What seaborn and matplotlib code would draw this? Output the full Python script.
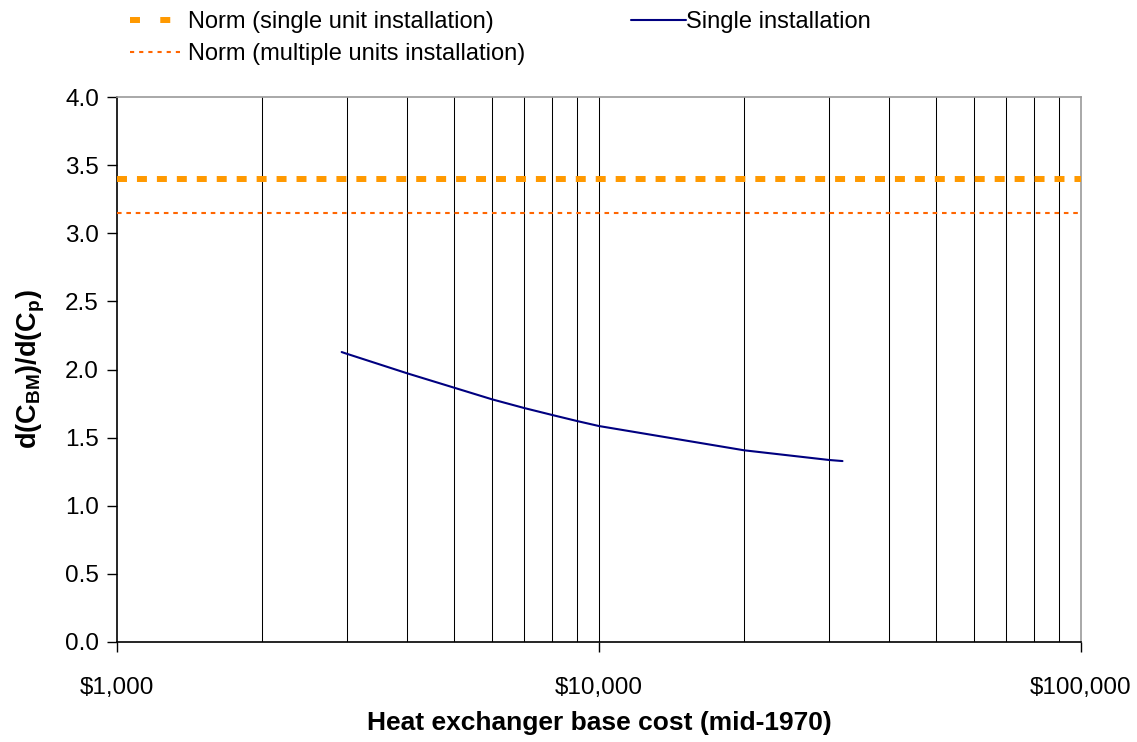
import numpy as np
import pandas as pd
import matplotlib
matplotlib.use("Agg")
import matplotlib.pyplot as plt
import seaborn as sns
from matplotlib.lines import Line2D
from matplotlib.ticker import FixedLocator, FuncFormatter

# ---- data ----
base_cost = [2925, 3000, 4000, 5000, 6000, 7000, 8000, 9000, 10000, 20000, 30000, 32000]
ratio_single = [2.128, 2.115, 1.972, 1.867, 1.781, 1.717, 1.666, 1.622, 1.585, 1.407, 1.336, 1.328]
norm_single_unit = 3.40
norm_multiple_units = 3.15
x_tick_values = [1000, 10000, 100000]
x_tick_labels = ["$1,000", "$10,000", "$100,000"]
y_tick_values = [0.0, 0.5, 1.0, 1.5, 2.0, 2.5, 3.0, 3.5, 4.0]
series_labels = ["Norm (single unit installation)", "Norm (multiple units installation)",
                 "Single installation"]

sns.set_style("white")
plt.rcParams['font.family'] = ['Liberation Sans', 'DejaVu Sans']
plt.rcParams['mathtext.fontset'] = 'custom'
plt.rcParams['mathtext.rm'] = 'Liberation Sans'
plt.rcParams['mathtext.bf'] = 'Liberation Sans:bold'
plt.rcParams['text.color'] = 'black'
plt.rcParams['axes.labelcolor'] = 'black'
plt.rcParams['xtick.color'] = 'black'
plt.rcParams['ytick.color'] = 'black'

ORANGE1 = "#FF9900"
ORANGE2 = "#FF6600"
NAVY = "#000080"

fig = plt.figure(figsize=(11.37, 7.42), dpi=100)
ax = fig.add_axes([117/1137, 1 - 642/742, (1081-117)/1137, (642-97)/742])

df = pd.DataFrame({"cost": base_cost, "ratio": ratio_single})

ax.set_xscale("log")
ax.set_xlim(1000, 100000)
ax.set_ylim(0, 4.0)

grid_x = [m * 10**e for e in (3, 4) for m in range(1, 10)]
for gx in grid_x[1:]:
    ax.axvline(gx, color="black", lw=0.75, zorder=1)

ax.axhline(norm_single_unit, color=ORANGE1, lw=4.3, ls=(0, (1.67, 1.67)), zorder=3)
ax.axhline(norm_multiple_units, color=ORANGE2, lw=1.5, ls=(0, (2.2, 2.3)), zorder=3)
sns.lineplot(data=df, x="cost", y="ratio", ax=ax, color=NAVY, lw=1.5, zorder=4, legend=False)

ax.xaxis.set_major_locator(FixedLocator(x_tick_values))
ax.xaxis.set_minor_locator(FixedLocator([]))
ax.set_xticks(x_tick_values)
ax.set_xticklabels(x_tick_labels)
ax.set_yticks(y_tick_values)
ax.yaxis.set_major_formatter(FuncFormatter(lambda v, p: f"{v:.1f}"))

ax.tick_params(axis="both", which="major", labelsize=17.5, colors="black", direction="out",
               length=7, width=1, left=True, bottom=True)
ax.tick_params(axis="x", pad=18)
ax.tick_params(axis="y", pad=6)

for side in ("left", "bottom"):
    ax.spines[side].set_color("black")
    ax.spines[side].set_linewidth(1.2)
for side in ("top", "right"):
    ax.spines[side].set_color("#9a9a9a")
    ax.spines[side].set_linewidth(1.2)

ax.set_xlabel("Heat exchanger base cost (mid-1970)", fontsize=19, fontweight="bold",
              labelpad=9, color="black")
ax.set_ylabel(r"d(C$_{\mathbf{BM}}$)/d(C$_{\mathbf{p}}$)", fontsize=19.5, fontweight="bold",
              labelpad=13, color="black")

h1 = Line2D([], [], color=ORANGE1, lw=4.3, ls=(0, (1.67, 3.4)))
h2 = Line2D([], [], color=ORANGE2, lw=1.5, ls=(0, (2.0, 2.4)))
h3 = Line2D([], [], color=NAVY, lw=1.5)

leg1 = fig.legend([h1, h2], series_labels[:2], loc="upper left",
                  bbox_to_anchor=(124/1137, 1 - 5/742), borderaxespad=0.0, borderpad=0.25,
                  frameon=False, fontsize=17, handlelength=2.35, handletextpad=0.12,
                  labelspacing=0.42, labelcolor="black")
leg2 = fig.legend([h3], series_labels[2:], loc="upper left",
                  bbox_to_anchor=(625/1137, 1 - 5/742), borderaxespad=0.0, borderpad=0.25,
                  frameon=False, fontsize=17, handlelength=2.35, handletextpad=0.0,
                  labelcolor="black")

fig.savefig("out.png", dpi=100)
